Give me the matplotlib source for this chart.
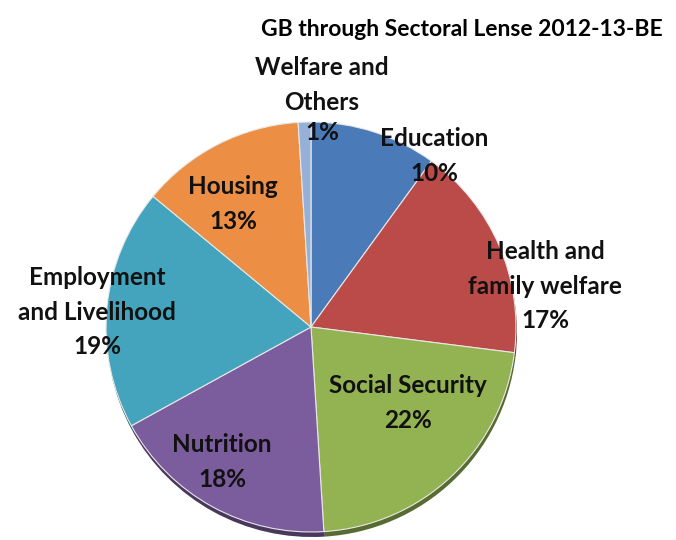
import matplotlib.pyplot as plt
import matplotlib.colors as mcolors

# sectors clockwise from 12 o'clock
sectors = ["Education", "Health and\nfamily welfare", "Social Security", "Nutrition",
           "Employment\nand Livelihood", "Housing", "Welfare and\nOthers"]
shares = [10, 17, 22, 18, 19, 13, 1]
colors = ["#4a7ab8", "#bb4b48", "#93b251", "#7b5c9c", "#45a4bd", "#ec8f45", "#95b1d8"]

# label anchor points in pixel coords (x, y from top)
label_pos = [(434, 156), (545, 286), (408, 403), (222, 462),
             (97, 312), (233, 204), (322, 85)]

W, H = 676, 540
fig = plt.figure(figsize=(W / 100, H / 100), dpi=100)
ax = fig.add_axes([0, 0, 1, 1])

cx, cy, r = 311, H - 327, 205

# darker copy underneath for a bit of depth at the bottom rim
dark = [mcolors.to_hex([c * 0.6 for c in mcolors.to_rgb(col)]) for col in colors]
ax.pie(shares, colors=dark, startangle=90, counterclock=False,
       center=(cx + 1, cy - 5), radius=r, frame=True,
       wedgeprops=dict(linewidth=0))
ax.pie(shares, colors=colors, startangle=90, counterclock=False,
       center=(cx, cy), radius=r, frame=True,
       wedgeprops=dict(linewidth=0.8, edgecolor="#e8e8e8"))
ax.set_xlim(0, W)
ax.set_ylim(0, H)
ax.set_aspect("equal")
ax.axis("off")

font = "Lato"
fs = 17.5
ls = 1.6
for name, val, (x, y) in zip(sectors, shares, label_pos):
    if name.startswith("Welfare"):
        ax.text(x, H - y, name, ha="center", va="center", fontsize=fs,
                family=font, fontweight="bold", color="#111111", linespacing=ls)
        ax.text(x, H - 132, f"{val}%", ha="center", va="center", fontsize=fs,
                family=font, fontweight="bold", color="#111111")
    else:
        ax.text(x, H - y, name + "\n" + f"{val}%", ha="center", va="center",
                fontsize=fs, family=font, fontweight="bold", color="#111111",
                linespacing=ls)

ax.text(462, H - 30, "GB through Sectoral Lense 2012-13-BE", ha="center", va="center",
        fontsize=16.5, family=font, fontweight="bold", color="#000000")

fig.savefig("out.png", dpi=100, facecolor="white")
